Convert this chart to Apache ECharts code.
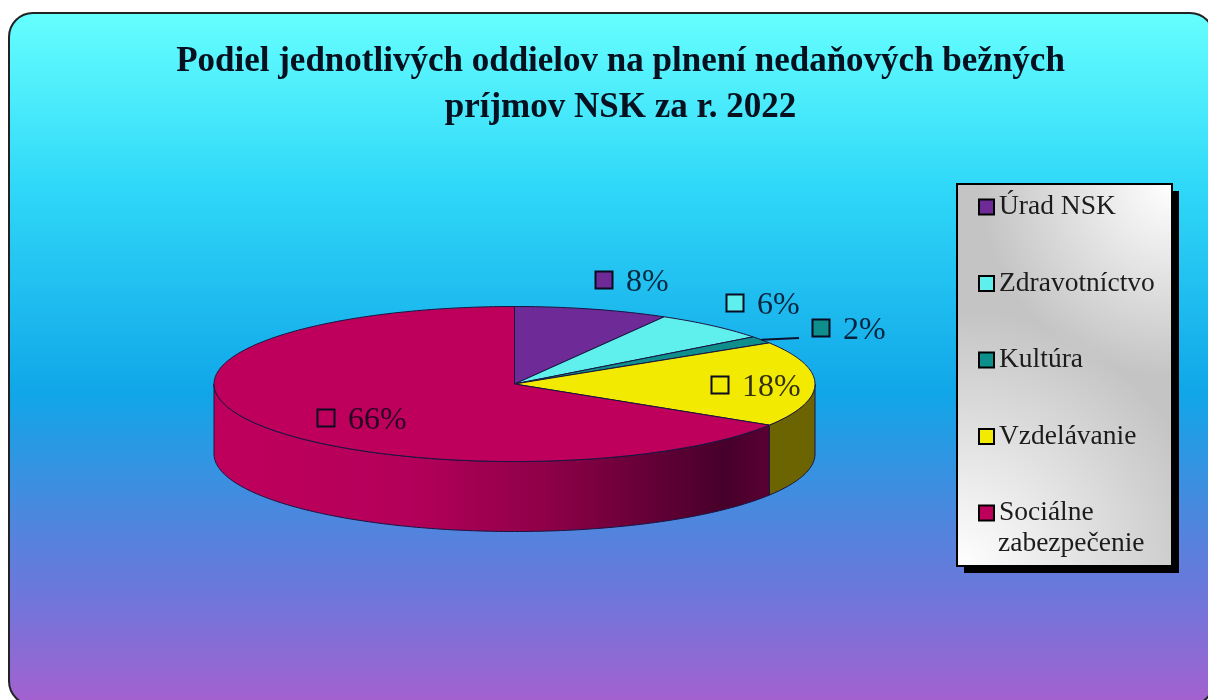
<!DOCTYPE html>
<html>
<head>
<meta charset="utf-8">
<title>Podiel oddielov</title>
<script src="https://cdn.jsdelivr.net/npm/echarts@6/dist/echarts.min.js"></script>
<style>
  html, body { margin: 0; padding: 0; background: #fff; }
  #chart { width: 1208px; height: 700px; }
</style>
</head>
<body>
<div id="chart"></div>
<script>
const titleText = 'Podiel jednotlivých oddielov na plnení nedaňových bežných\npríjmov NSK za r. 2022';
const categories = ['Úrad NSK', 'Zdravotníctvo', 'Kultúra', 'Vzdelávanie', 'Sociálne zabezpečenie'];
const shares = [8.3, 6.3, 1.5, 17.8, 66.1];
const colors = ['#6E2A96', '#5FEFEC', '#0F8F8C', '#F2EA00', '#BE005C'];

// pie layout, in pixels
const cx = 514.5, cy = 384, rx = 300.5, ry = 77.5, depth = 70;
const serif = '"Liberation Serif", "DejaVu Serif", serif';
// where each percent tag sits (centre of its small square)
const tagSpots = [[604, 280], [735, 303], [821, 328], [720, 385], [326, 418]];

const total = shares.reduce((a, b) => a + b, 0);

function edgePoint(deg, dy) {
    const t = deg * Math.PI / 180;
    return [cx + rx * Math.sin(t), cy - ry * Math.cos(t) + (dy || 0)];
}

function arcPoints(from, to, dy) {
    const pts = [];
    const n = Math.max(2, Math.ceil(Math.abs(to - from)));
    for (let i = 0; i <= n; i++) pts.push(edgePoint(from + (to - from) * i / n, dy));
    return pts;
}

function sideFill(idx) {
    if (idx === 3) return '#6B6400';
    return {
        type: 'linear', x: 0, y: 0, x2: 1, y2: 0,
        colorStops: [
            { offset: 0, color: '#BE005C' },
            { offset: 0.35, color: '#B4005A' },
            { offset: 0.6, color: '#8E0048' },
            { offset: 0.92, color: '#46002A' },
            { offset: 1, color: '#5A0032' }
        ]
    };
}

const edgeStyle = { stroke: '#1a1440', lineWidth: 1 };

function sliceItem(idx, params, api) {
    const value = api.value(0);
    const before = shares.slice(0, idx).reduce((a, b) => a + b, 0);
    const start = before / total * 360;
    const end = (before + value) / total * 360;
    const children = [];

    // visible wall only on the front half of the disc
    const a = Math.max(start, 90), b = Math.min(end, 270);
    if (b > a) {
        const top = arcPoints(a, b, 0);
        const bottom = arcPoints(b, a, depth);
        children.push({
            type: 'polygon',
            z2: 1,
            shape: { points: top.concat(bottom) },
            style: Object.assign({ fill: sideFill(idx) }, edgeStyle)
        });
    }

    children.push({
        type: 'polygon',
        z2: 2,
        shape: { points: [[cx, cy]].concat(arcPoints(start, end, 0)) },
        style: Object.assign({ fill: colors[idx] }, edgeStyle)
    });

    // leader line of the thin slice
    if (idx === 2) {
        const tip = edgePoint((start + end) / 2, 0);
        children.push({
            type: 'polyline',
            z2: 5,
            shape: { points: [tip, [799, tagSpots[idx][1] + 10]] },
            style: { stroke: '#0a1230', lineWidth: 2, fill: null }
        });
    }

    const spot = tagSpots[idx];
    children.push({
        type: 'rect',
        z2: 6,
        shape: { x: spot[0] - 8.5, y: spot[1] - 8.5, width: 17, height: 17 },
        style: { fill: colors[idx], stroke: '#0a0a20', lineWidth: 2 }
    });
    children.push({
        type: 'text',
        z2: 6,
        style: {
            x: spot[0] + 22,
            y: spot[1] + 3,
            text: Math.round(value / total * 100) + '%',
            font: '32px ' + serif,
            fill: 'rgba(0,0,20,0.8)',
            textAlign: 'left',
            textVerticalAlign: 'middle'
        }
    });

    return { type: 'group', children: children };
}

const series = categories.map((name, i) => ({
    type: 'custom',
    name: name,
    coordinateSystem: 'none',
    itemStyle: { color: colors[i] },
    data: [[shares[i]]],
    renderItem: (params, api) => sliceItem(i, params, api),
    silent: true
}));

const chart = echarts.init(document.getElementById('chart'));
chart.setOption({
    animation: false,
    backgroundColor: '#fff',
    title: {
        text: titleText,
        left: 615.5,
        top: 34,
        textAlign: 'center',
        textStyle: {
            fontFamily: serif,
            fontWeight: 'bold',
            fontSize: 35,
            lineHeight: 46,
            color: '#06101e'
        }
    },
    legend: {
        orient: 'vertical',
        left: 978,
        top: 192,
        padding: 0,
        icon: 'rect',
        itemWidth: 15,
        itemHeight: 15,
        itemGap: 46.5,
        selectedMode: false,
        data: categories,
        itemStyle: { borderColor: '#000', borderWidth: 2 },
        formatter: name => name.split(' zabezpe')[0],
        textStyle: { fontFamily: serif, fontSize: 27.5, lineHeight: 30, color: '#1c1c1c' }
    },
    graphic: {
        elements: [
            // panel
            {
                type: 'rect', z: 0,
                shape: { x: 9, y: 13, width: 1205, height: 692, r: 24 },
                style: {
                    fill: {
                        type: 'linear', x: 0, y: 0, x2: 0, y2: 1,
                        colorStops: [
                            { offset: 0, color: '#66FFFF' },
                            { offset: 0.25, color: '#30D8F8' },
                            { offset: 0.55, color: '#10A6E8' },
                            { offset: 0.72, color: '#4A88DE' },
                            { offset: 0.86, color: '#7474DA' },
                            { offset: 1, color: '#A660CE' }
                        ]
                    },
                    stroke: '#222', lineWidth: 2
                }
            },
            // legend box: shadow, silver base, lighter corners
            { type: 'rect', z: 1, shape: { x: 964, y: 191, width: 215, height: 382 }, style: { fill: '#000' } },
            { type: 'rect', z: 1, shape: { x: 957, y: 184, width: 215, height: 382 }, style: { fill: '#C4C4C4', stroke: '#000', lineWidth: 2 } },
            {
                type: 'rect', z: 1, shape: { x: 958, y: 185, width: 213, height: 380 },
                style: { fill: { type: 'radial', x: 0, y: 1, r: 1.2, colorStops: [
                    { offset: 0, color: 'rgba(255,255,255,1)' },
                    { offset: 1, color: 'rgba(255,255,255,0)' }
                ] } }
            },
            {
                type: 'rect', z: 1, shape: { x: 958, y: 185, width: 213, height: 380 },
                style: { fill: { type: 'radial', x: 1, y: 0, r: 0.9, colorStops: [
                    { offset: 0, color: 'rgba(255,255,255,1)' },
                    { offset: 1, color: 'rgba(255,255,255,0)' }
                ] } }
            },
            // second line of the last legend entry
            {
                type: 'text', z: 10,
                style: {
                    x: 998, y: 544,
                    text: 'zabezpečenie',
                    font: '27.5px ' + serif,
                    fill: '#1c1c1c',
                    textAlign: 'left',
                    textVerticalAlign: 'middle'
                }
            }
        ]
    },
    series: series
});
</script>
</body>
</html>
